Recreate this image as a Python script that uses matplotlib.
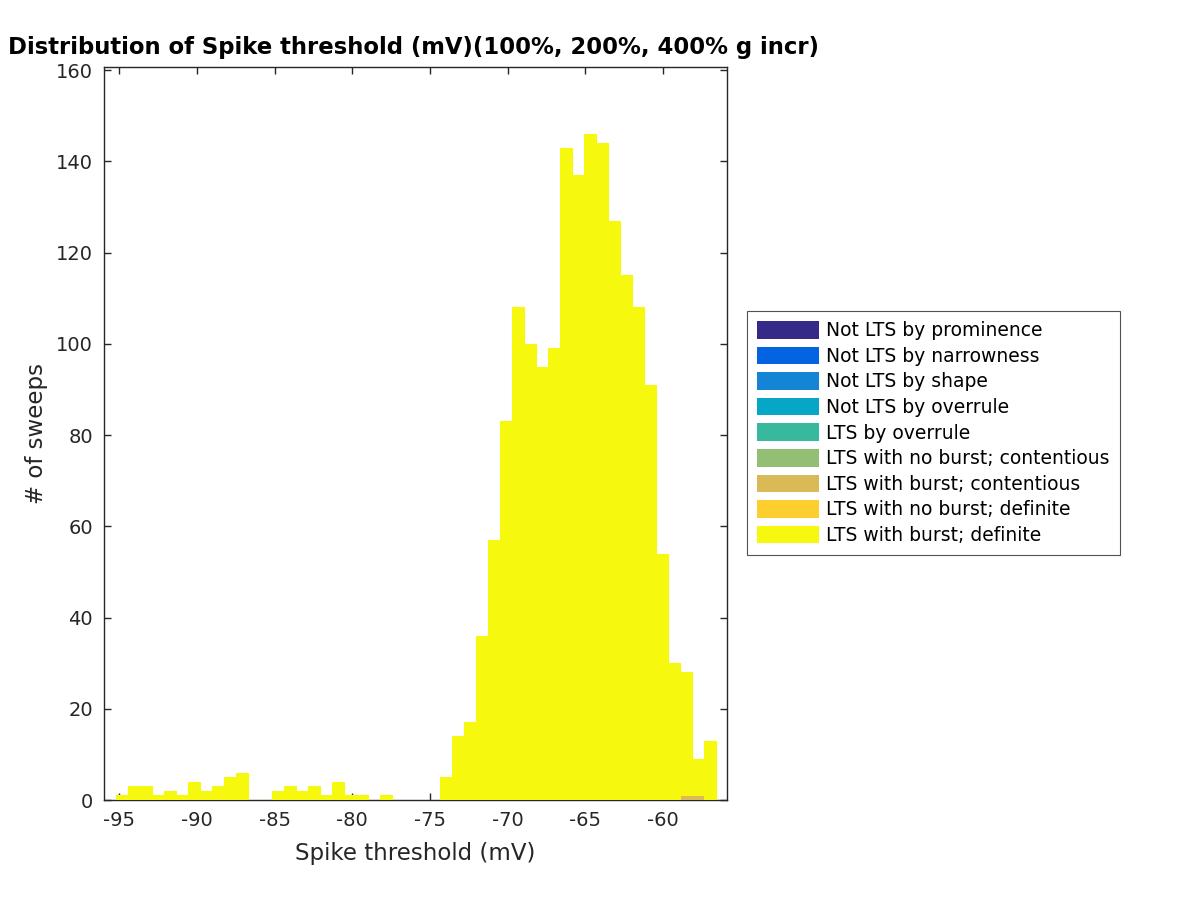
import numpy as np
import matplotlib
matplotlib.use("Agg")
import matplotlib.pyplot as plt
from matplotlib.patches import Patch

# Histogram of spike threshold, stacked by LTS classification
categories = [
    "Not LTS by prominence",
    "Not LTS by narrowness",
    "Not LTS by shape",
    "Not LTS by overrule",
    "LTS by overrule",
    "LTS with no burst; contentious",
    "LTS with burst; contentious",
    "LTS with no burst; definite",
    "LTS with burst; definite",
]
colors = ["#352A87", "#0363E1", "#1485D4", "#06A7C6", "#38B99E",
          "#92BF73", "#D9BA56", "#FCCE2E", "#F6F90E"]

# bin range (50 bins)
bin_lo, bin_hi, n_bins = -95.21, -56.6, 50

burst_contentious = [0] * 47 + [1, 1, 0]
burst_definite = [1, 3, 3, 1, 2, 1, 4, 2, 3, 5,
                  6, 0, 0, 2, 3, 2, 3, 1, 4, 1,
                  1, 0, 1, 0, 0, 0, 0, 5, 14, 17,
                  36, 57, 83, 108, 100, 95, 99, 143, 137, 146,
                  144, 127, 115, 108, 91, 54, 30, 27, 8, 13]

series = {c: np.zeros(n_bins) for c in categories}
series["LTS with burst; contentious"] = np.array(burst_contentious, float)
series["LTS with burst; definite"] = np.array(burst_definite, float)

plt.rcParams["font.family"] = "DejaVu Sans"
plt.rcParams["axes.unicode_minus"] = False
axcol = "#262626"

fig = plt.figure(figsize=(12, 9), dpi=100)
ax = fig.add_axes([104 / 1200, 100 / 900, 623 / 1200, 733 / 900])

edges = np.linspace(bin_lo, bin_hi, n_bins + 1)
width = edges[1] - edges[0]
bottom = np.zeros(n_bins)
for cat, col in zip(categories, colors):
    h = series[cat]
    if h.sum() > 0:
        lw = 0.8 if cat == "LTS with burst; definite" else 0
        ax.bar(edges[:-1], h, width=width, bottom=bottom, align="edge",
               color=col, edgecolor=col, linewidth=lw, zorder=3)
    bottom += h

ax.set_xlim(-95.98, -55.87)
ax.set_ylim(0, 160.7)
ax.set_xticks(np.arange(-95, -59, 5))
ax.set_yticks(np.arange(0, 161, 20))
ax.tick_params(direction="in", top=True, right=True, length=5, width=1,
               colors=axcol, labelsize=14, pad=8)
for s in ax.spines.values():
    s.set_color(axcol)
    s.set_linewidth(1)

ax.set_xlabel("Spike threshold (mV)", fontsize=16.5, color=axcol, labelpad=8.5)
ax.set_ylabel("# of sweeps", fontsize=16.5, color=axcol, labelpad=6)
fig.text(0.007, 0.947, "Distribution of Spike threshold (mV)(100%, 200%, 400% g incr)",
         fontsize=16.4, fontweight="bold", ha="left", va="center")

handles = [Patch(facecolor=c, edgecolor="none") for c in colors]
leg = fig.legend(handles, categories, loc="center left",
                 bbox_to_anchor=(747 / 1200, 1 - 433 / 900), fontsize=13.5,
                 frameon=True, fancybox=False, edgecolor="#262626",
                 handlelength=3.3, handleheight=1.07, labelspacing=0.34,
                 handletextpad=0.37, borderpad=0.55, borderaxespad=0)
leg.get_frame().set_linewidth(0.8)

fig.savefig("out.png", dpi=100)
